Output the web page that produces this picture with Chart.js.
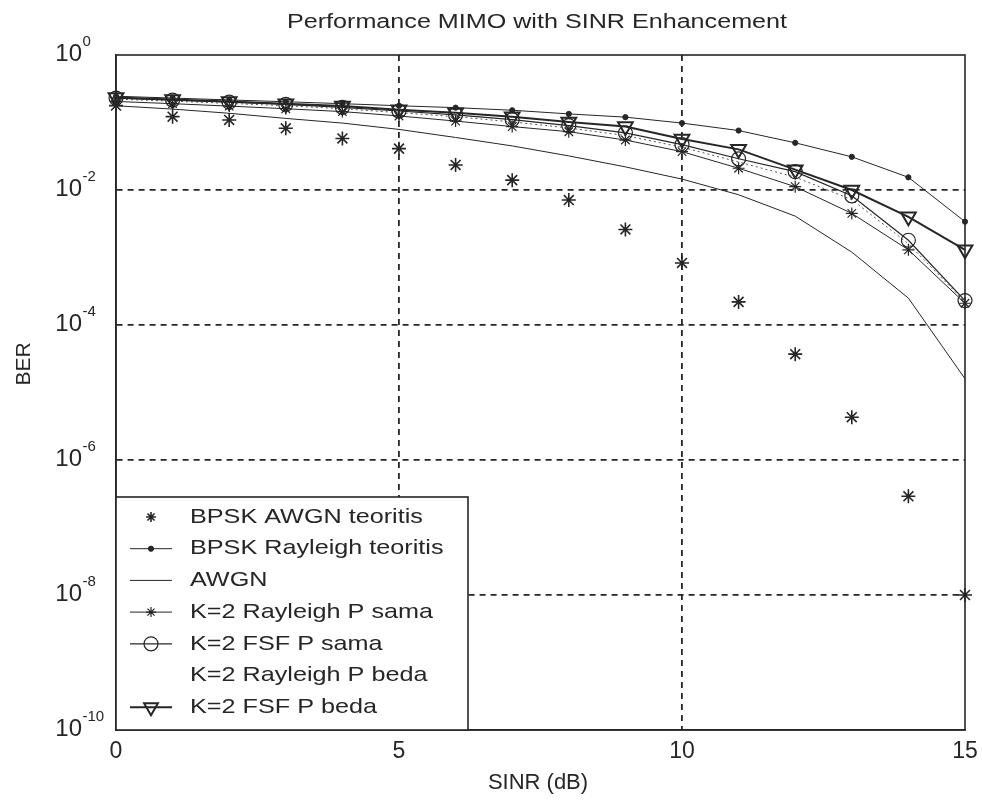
<!DOCTYPE html>
<html>
<head>
<meta charset="utf-8">
<script src="https://cdn.jsdelivr.net/npm/chart.js@4/dist/chart.umd.min.js"></script>
<style>
html,body{margin:0;padding:0;background:#fff;}
#wrap{width:982px;height:802px;}
</style>
</head>
<body>
<div id="wrap"><canvas id="c" width="982" height="802"></canvas></div>
<script>
// ---- data ----
const sinr = [0,1,2,3,4,5,6,7,8,9,10,11,12,13,14,15];
const bpskAwgnTeoritis     = [0.178,0.122,0.109,0.082,0.058,0.041,0.0235,0.014,0.0071,0.0026,8.3e-4,2.2e-4,3.7e-5,4.3e-6,2.9e-7,1.0e-8];
const bpskRayleighTeoritis = [0.245,0.23,0.216,0.203,0.19,0.177,0.166,0.152,0.134,0.12,0.098,0.076,0.050,0.031,0.0154,0.0034];
const awgn                 = [0.177,0.158,0.137,0.115,0.098,0.079,0.060,0.045,0.032,0.022,0.0145,0.0085,0.0041,0.0012,2.5e-4,1.6e-5];
const k2RayleighSama       = [0.205,0.19,0.175,0.16,0.145,0.125,0.105,0.087,0.073,0.055,0.037,0.021,0.0112,0.0045,0.0013,2.1e-4];
const k2FsfSama            = [0.23,0.215,0.2,0.185,0.168,0.148,0.13,0.11,0.09,0.07,0.047,0.029,0.0187,0.0082,0.0018,2.3e-4];
const k2RayleighBeda       = [0.222,0.207,0.192,0.177,0.16,0.14,0.122,0.102,0.083,0.064,0.043,0.026,0.0155,0.0072,0.0016,2.2e-4];
const k2FsfBeda            = [0.235,0.22,0.205,0.19,0.175,0.155,0.14,0.122,0.102,0.087,0.057,0.040,0.020,0.010,0.0040,0.0013];

const seriesNames = ['BPSK AWGN teoritis','BPSK Rayleigh teoritis','AWGN','K=2 Rayleigh P sama','K=2 FSF P sama','K=2 Rayleigh P beda','K=2 FSF P beda'];
const xTicks = [0,5,10,15];
const yTicks = [1,1e-2,1e-4,1e-6,1e-8,1e-10];
const yTickExp = ['0','-2','-4','-6','-8','-10'];
const titleText = 'Performance MIMO with SINR Enhancement';
const xTitle = 'SINR (dB)';
const yTitle = 'BER';

const INK = '#262626';
const pts = arr => sinr.map((x,i)=>({x:x, y:arr[i]}));

const datasets = [
  {label:seriesNames[0], data:pts(bpskAwgnTeoritis), showLine:false, pointStyle:'star', pointRadius:7, pointBorderWidth:1.6, borderColor:INK, backgroundColor:INK, legendRadius:5},
  {label:seriesNames[1], data:pts(bpskRayleighTeoritis), borderWidth:1, pointStyle:'circle', pointRadius:2.6, pointBorderWidth:1, borderColor:INK, backgroundColor:INK, legendRadius:2.6},
  {label:seriesNames[2], data:pts(awgn), borderWidth:1, pointRadius:0, borderColor:INK, backgroundColor:INK},
  {label:seriesNames[3], data:pts(k2RayleighSama), borderWidth:1, pointStyle:'star', pointRadius:6, pointBorderWidth:1.2, borderColor:INK, backgroundColor:INK, legendRadius:5},
  {label:seriesNames[4], data:pts(k2FsfSama), borderWidth:1.2, pointStyle:'circle', pointRadius:7, pointBorderWidth:1.2, borderColor:INK, backgroundColor:'rgba(0,0,0,0)', legendRadius:7},
  {label:seriesNames[5], data:pts(k2RayleighBeda), borderWidth:1, borderDash:[2,3], pointRadius:0, borderColor:'#555', backgroundColor:'#555', noLegendSample:true},
  {label:seriesNames[6], data:pts(k2FsfBeda), borderWidth:2, pointStyle:'triangle', pointRotation:180, pointRadius:8.5, pointBorderWidth:2, borderColor:INK, backgroundColor:'rgba(0,0,0,0)', legendRadius:8}
].map(d => Object.assign({fill:false, tension:0, clip:false, pointHoverRadius:d.pointRadius}, d));

function drawText(ctx, s, x, y, size, align, sx){
  ctx.save();
  ctx.font = size + 'px "Liberation Sans", Arial, Helvetica, sans-serif';
  ctx.textBaseline = 'middle';
  ctx.textAlign = 'left';
  const w = ctx.measureText(s).width * sx;
  const x0 = align === 'center' ? x - w/2 : (align === 'right' ? x - w : x);
  ctx.translate(x0, y);
  ctx.scale(sx, 1);
  ctx.fillStyle = INK;
  ctx.fillText(s, 0, 0);
  ctx.restore();
  return w;
}

const framePlugin = {
  id:'frame',
  beforeDatasetsDraw(chart){
    const {ctx, chartArea:a} = chart;
    ctx.save();
    ctx.strokeStyle = INK; ctx.lineWidth = 1.6;
    ctx.strokeRect(a.left, a.top, a.right - a.left, a.bottom - a.top);
    ctx.restore();
  }
};

const legendPlugin = {
  id:'insideLegend',
  afterDatasetsDraw(chart){
    const {ctx, chartArea:a} = chart;
    const bx = a.left, by = 497, bw = 468 - a.left, bh = a.bottom - 497;
    ctx.save();
    ctx.fillStyle = '#fff';
    ctx.fillRect(bx, by, bw, bh);
    ctx.strokeStyle = INK; ctx.lineWidth = 1.6;
    ctx.strokeRect(bx, by, bw, bh);
    chart.data.datasets.forEach((ds, i) => {
      const y = 517 + i * 31.7;
      if (!ds.noLegendSample) {
        if (ds.showLine !== false) {
          ctx.save();
          ctx.strokeStyle = ds.borderColor; ctx.lineWidth = ds.borderWidth;
          ctx.setLineDash(ds.borderDash || []);
          ctx.beginPath(); ctx.moveTo(130, y); ctx.lineTo(172, y); ctx.stroke();
          ctx.restore();
        }
        if (ds.pointRadius > 0) {
          ctx.save();
          ctx.strokeStyle = ds.borderColor; ctx.fillStyle = ds.backgroundColor;
          ctx.lineWidth = ds.pointBorderWidth;
          Chart.helpers.drawPoint(ctx, {pointStyle: ds.pointStyle, radius: ds.legendRadius || ds.pointRadius, rotation: ds.pointRotation || 0, borderWidth: ds.pointBorderWidth}, 151, y);
          ctx.restore();
        }
      }
      drawText(ctx, ds.label, 190, y, 21, 'left', 1.2);
    });
    ctx.restore();
  }
};

const textPlugin = {
  id:'texts',
  afterDraw(chart){
    const {ctx, chartArea:a, scales} = chart;
    // title
    ctx.save();
    ctx.font = '20px "Liberation Sans", Arial, sans-serif';
    const tw = ctx.measureText(titleText).width;
    ctx.restore();
    drawText(ctx, titleText, 537, 22, 20, 'center', 500 / tw);
    // x tick labels
    xTicks.forEach(v => drawText(ctx, String(v), scales.x.getPixelForValue(v), 752, 23, 'center', 1.0));
    // y tick labels with superscript exponents
    yTicks.forEach((v, i) => {
      const py = scales.y.getPixelForValue(v);
      drawText(ctx, '10', 82, py - 1, 24, 'right', 1.0);
      drawText(ctx, yTickExp[i], 82.5, py - 13, 15, 'left', 1.0);
    });
    // axis titles
    drawText(ctx, xTitle, 538, 783, 22, 'center', 1.0);
    ctx.save();
    ctx.translate(24, 364);
    ctx.rotate(-Math.PI/2);
    drawText(ctx, yTitle, 0, 0, 21, 'center', 1.0);
    ctx.restore();
  }
};

const gridColor = (list) => (c) => (c.tick && list.includes(c.tick.value)) ? INK : 'rgba(0,0,0,0)';

new Chart(document.getElementById('c'), {
  type:'line',
  data:{datasets: datasets},
  options:{
    responsive:false,
    animation:false,
    events:[],
    layout:{padding:{left:116, top:55, right:17, bottom:72}},
    plugins:{legend:{display:false}, title:{display:false}, tooltip:{enabled:false}},
    scales:{
      x:{
        type:'linear', min:0, max:15,
        ticks:{display:false, stepSize:5},
        afterBuildTicks: s => { s.ticks = xTicks.map(v => ({value:v})); },
        grid:{color: gridColor([5,10]), lineWidth:1.8, drawTicks:false},
        border:{display:true, color:INK, width:1.6, dash:[6,5]}
      },
      y:{
        type:'logarithmic', min:1e-10, max:1,
        ticks:{display:false},
        afterBuildTicks: s => { s.ticks = yTicks.map(v => ({value:v})); },
        grid:{color: gridColor([1e-2,1e-4,1e-6,1e-8]), lineWidth:1.8, drawTicks:false},
        border:{display:true, color:INK, width:1.6, dash:[6,5]}
      }
    }
  },
  plugins:[framePlugin, legendPlugin, textPlugin]
});
</script>
</body>
</html>
